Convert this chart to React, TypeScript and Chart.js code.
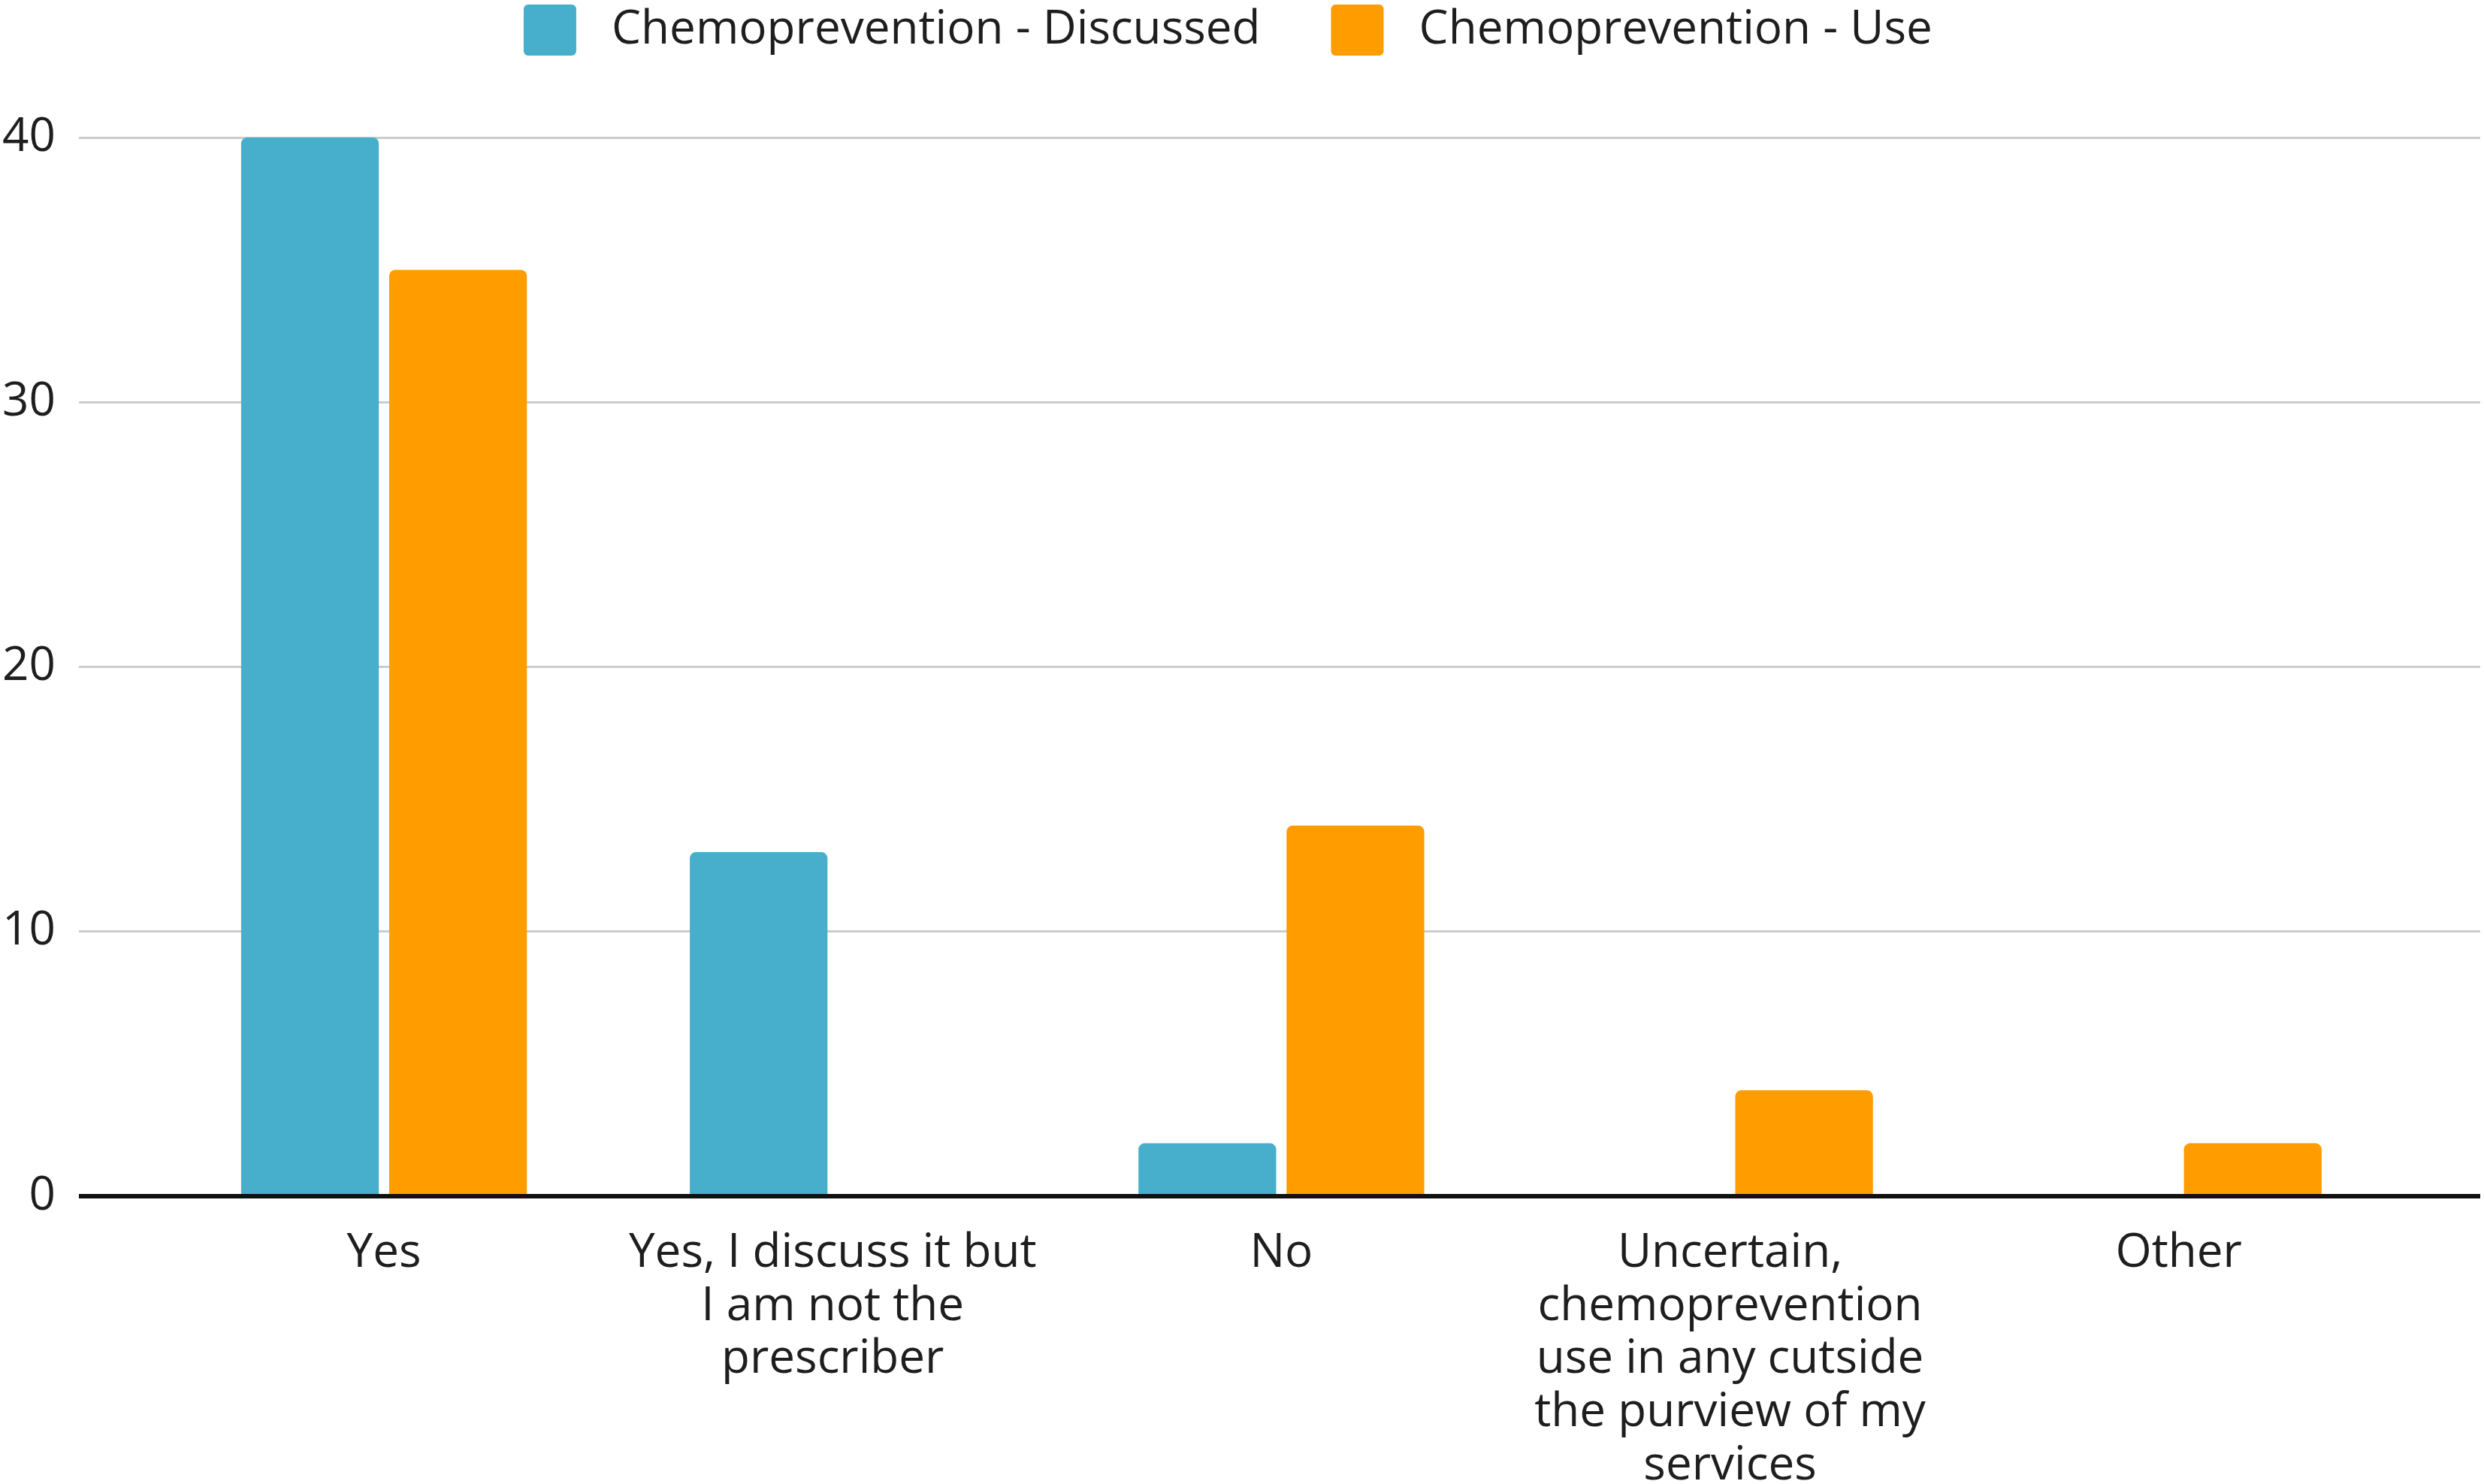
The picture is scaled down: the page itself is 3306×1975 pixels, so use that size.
import React, { useEffect, useRef } from "react";
import { Chart, registerables } from "chart.js";

Chart.register(...registerables);

const categories: string[][] = [
    ["Yes"],
    ["Yes, I discuss it but", "I am not the", "prescriber"],
    ["No"],
    ["Uncertain,", "chemoprevention", "use in any cutside", "the purview of my", "services"],
    ["Other"],
];
const discussed = [40, 13, 2, 0, 0];
const use = [35, 0, 14, 4, 2];
const seriesNames = ["Chemoprevention - Discussed", "Chemoprevention - Use"];
const yTicks = [0, 10, 20, 30, 40];

const BLUE = "#47afcb";
const ORANGE = "#ff9c00";
const TEXT = "#1e1e1e";
const FONT = "'Open Sans', sans-serif";

// draws the black base line above the bars
const zeroLine = {
    id: "zeroLine",
    afterDatasetsDraw(chart: any) {
        const { ctx, chartArea, scales } = chart;
        const y = scales.y.getPixelForValue(0);
        ctx.save();
        ctx.strokeStyle = "#111";
        ctx.lineWidth = 6;
        ctx.beginPath();
        ctx.moveTo(chartArea.left, y);
        ctx.lineTo(chartArea.right, y);
        ctx.stroke();
        ctx.restore();
    },
};

// room between legend and plot
const legendSpace = {
    id: "legendSpace",
    beforeInit(chart: any) {
        const fit = chart.legend.fit;
        chart.legend.fit = function () {
            fit.bind(chart.legend)();
            this.height = 271;
        };
    },
};

const App = () => {
    const canvasRef = useRef<HTMLCanvasElement | null>(null);

    useEffect(() => {
        document.body.style.margin = "0";
        const ctx = canvasRef.current?.getContext("2d");
        if (!ctx) return;

        const toPoints = (vals: number[]) => vals.map((v, i) => ({ x: i, y: v }));

        const chart = new Chart(ctx, {
            type: "bar",
            data: {
                datasets: [
                    {
                        label: seriesNames[0],
                        data: toPoints(discussed),
                        backgroundColor: BLUE,
                        borderWidth: 0,
                        borderRadius: { topLeft: 8, topRight: 8, bottomLeft: 0, bottomRight: 0 },
                    },
                    {
                        label: seriesNames[1],
                        data: toPoints(use),
                        backgroundColor: ORANGE,
                        borderWidth: 0,
                        borderRadius: { topLeft: 8, topRight: 8, bottomLeft: 0, bottomRight: 0 },
                    },
                ],
            },
            options: {
                animation: false,
                responsive: true,
                maintainAspectRatio: false,
                layout: { padding: { top: -88, left: 0, right: 5, bottom: 0 } },
                datasets: {
                    bar: { categoryPercentage: 0.66, barPercentage: 0.93 },
                },
                plugins: {
                    tooltip: { enabled: false },
                    legend: {
                        position: "top",
                        align: "center",
                        labels: {
                            color: TEXT,
                            font: { family: FONT, size: 62 },
                            boxWidth: 70,
                            boxHeight: 68,
                            padding: 94,
                            useBorderRadius: true,
                            borderRadius: 6,
                            generateLabels: (c: any) =>
                                Chart.defaults.plugins.legend.labels
                                    .generateLabels(c)
                                    .map((l: any, i: number) => ({
                                        ...l,
                                        text: " " + l.text + (i === 1 ? "  " : ""),
                                    })),
                        },
                    },
                },
                scales: {
                    x: {
                        type: "linear",
                        offset: false,
                        min: -0.68,
                        max: 4.672,
                        grid: { display: false },
                        border: { display: false },
                        afterBuildTicks: (scale: any) => {
                            scale.ticks = categories.map((_, i) => ({ value: i }));
                        },
                        afterFit: (scale: any) => {
                            scale.height = 383;
                        },
                        ticks: {
                            autoSkip: false,
                            maxRotation: 0,
                            minRotation: 0,
                            padding: 33,
                            color: TEXT,
                            font: { family: FONT, size: 62, lineHeight: 1.14 },
                            callback: (v: any) => (Number.isInteger(v) ? categories[v] : ""),
                        },
                    },
                    y: {
                        min: 0,
                        max: 40,
                        afterBuildTicks: (scale: any) => {
                            scale.ticks = yTicks.map((v) => ({ value: v }));
                        },
                        afterFit: (scale: any) => {
                            scale.width = 105;
                        },
                        grid: { color: "#cccccc", lineWidth: 3, drawTicks: false },
                        border: { display: false },
                        ticks: {
                            padding: 31,
                            color: TEXT,
                            font: { family: FONT, size: 62 },
                        },
                    },
                },
            },
            plugins: [legendSpace, zeroLine],
        });

        return () => {
            chart.destroy();
        };
    }, []);

    return (
        <div style={{ width: 3306, height: 1975, position: "relative", background: "#fff" }}>
            <canvas ref={canvasRef} />
        </div>
    );
};

export default App;
